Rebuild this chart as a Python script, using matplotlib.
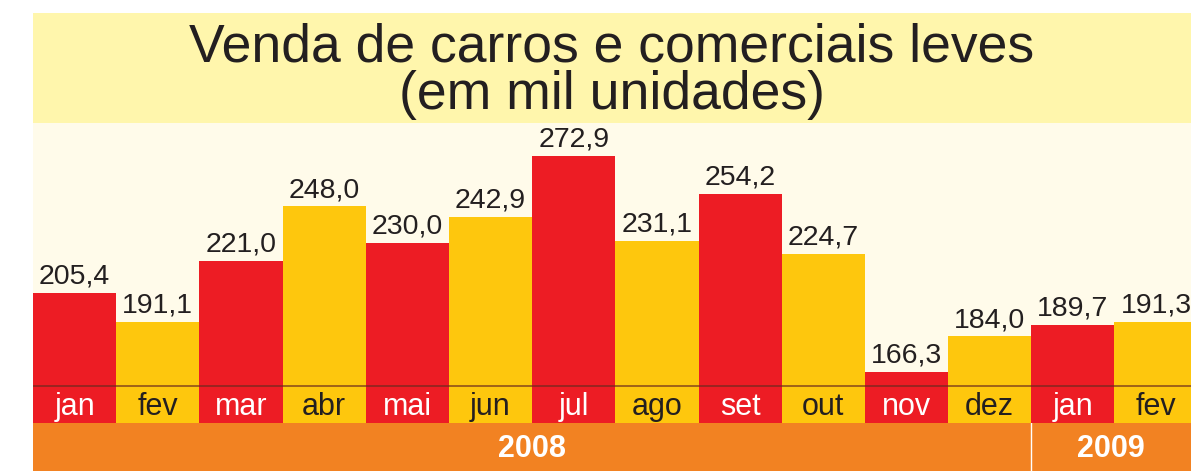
import matplotlib.pyplot as plt

# data
months = ["jan", "fev", "mar", "abr", "mai", "jun", "jul", "ago", "set", "out", "nov", "dez", "jan", "fev"]
values = [205.4, 191.1, 221.0, 248.0, 230.0, 242.9, 272.9, 231.1, 254.2, 224.7, 166.3, 184.0, 189.7, 191.3]
value_labels = ["205,4", "191,1", "221,0", "248,0", "230,0", "242,9", "272,9", "231,1", "254,2", "224,7", "166,3", "184,0", "189,7", "191,3"]
years = ["2008", "2009"]
year_months = [12, 2]

red = "#ED1C24"
yellow = "#FEC70D"
orange = "#F28222"
band = "#FFF6AC"
cream = "#FFFBEA"

plt.rcParams["font.family"] = ["Liberation Sans", "DejaVu Sans"]

W, H = 1191, 471
fig = plt.figure(figsize=(W / 100, H / 100), dpi=100)
fig.patch.set_facecolor("white")

left = 33 / W
width = 1 - left

# title band
tax = fig.add_axes([left, (H - 123) / H, width, 110 / H])
tax.set_facecolor(band)
tax.set_xticks([])
tax.set_yticks([])
for s in tax.spines.values():
    s.set_visible(False)
tax.text(0.5, 0.47, "Venda de carros e comerciais leves\n(em mil unidades)",
         transform=tax.transAxes, ha="center", va="center", fontsize=38.5,
         color="#231F20", linespacing=0.93)

# bars
ymin, ymax = 141.4, 289.1
base = 159.6
xmax = 13.42
ax = fig.add_axes([left, 48 / H, width, 300 / H])
ax.set_facecolor(cream)
colors = [red if i % 2 == 0 else yellow for i in range(len(values))]
x = list(range(len(values)))
ax.bar(x, values, width=1.0, color=colors, linewidth=0)
ax.set_xlim(-0.5, xmax)
ax.set_ylim(ymin, ymax)
ax.axhline(base, color="#6B2A1E", lw=1.2, alpha=0.75)
for i, v in enumerate(values):
    ax.annotate(value_labels[i], (i, v), xytext=(0, 2.5), textcoords="offset points",
                ha="center", va="bottom", fontsize=20.5, color="#231F20",
                annotation_clip=False, clip_on=False)
    tc = "white" if i % 2 == 0 else "#231F20"
    ax.text(i, ymin + 8 / 2.031, months[i], ha="center", va="baseline",
            fontsize=22, color=tc)
ax.set_xticks([])
ax.set_yticks([])
for s in ax.spines.values():
    s.set_visible(False)

# year band
yax = fig.add_axes([left, 0, width, 48 / H])
yax.set_facecolor(orange)
yax.set_xlim(-0.5, xmax)
yax.set_ylim(0, 1)
start = -0.5
for yr, n in zip(years, year_months):
    end = min(start + n, xmax)
    yax.text((start + end) / 2, 0.45, yr, ha="center", va="center", fontsize=22,
             fontweight="bold", color="white")
    start += n
    if start < xmax:
        yax.axvline(start, color="white", lw=1)
yax.set_xticks([])
yax.set_yticks([])
for s in yax.spines.values():
    s.set_visible(False)

fig.savefig("out.png", dpi=100, facecolor="white")
